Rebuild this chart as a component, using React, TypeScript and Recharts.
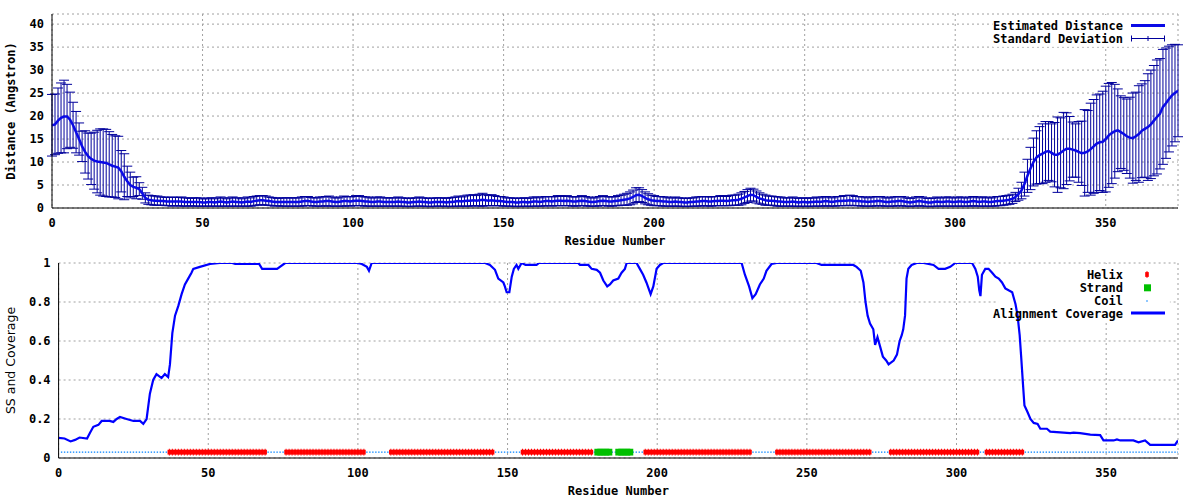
import { ComposedChart, Line, Scatter, XAxis, YAxis, CartesianGrid, ErrorBar, ReferenceArea } from "recharts";

// estimated distance per residue (0..374)
const distance = [
  18.0, 18.2, 19.0, 19.6, 19.9, 19.9, 19.2, 18.0, 16.5, 15.0,
  13.4, 12.2, 11.3, 10.7, 10.3, 10.1, 10.0, 9.9, 9.8, 9.5,
  9.2, 9.0, 8.8, 8.0, 6.8, 5.8, 5.0, 4.6, 4.4, 4.1,
  3.2, 2.2, 1.8, 1.7, 1.6, 1.6, 1.5, 1.5, 1.4, 1.4,
  1.4, 1.4, 1.4, 1.4, 1.3, 1.3, 1.3, 1.3, 1.3, 1.3,
  1.2, 1.2, 1.3, 1.3, 1.2, 1.3, 1.4, 1.3, 1.2, 1.3,
  1.4, 1.3, 1.3, 1.2, 1.3, 1.4, 1.3, 1.5, 1.6, 1.7,
  1.7, 1.6, 1.5, 1.4, 1.3, 1.3, 1.3, 1.3, 1.3, 1.3,
  1.3, 1.3, 1.3, 1.4, 1.5, 1.5, 1.4, 1.3, 1.3, 1.4,
  1.4, 1.5, 1.5, 1.4, 1.3, 1.3, 1.4, 1.5, 1.5, 1.4,
  1.5, 1.6, 1.6, 1.5, 1.4, 1.4, 1.3, 1.3, 1.4, 1.4,
  1.3, 1.3, 1.3, 1.3, 1.3, 1.4, 1.3, 1.3, 1.2, 1.2,
  1.3, 1.3, 1.4, 1.3, 1.3, 1.2, 1.2, 1.3, 1.3, 1.3,
  1.3, 1.2, 1.3, 1.3, 1.4, 1.5, 1.4, 1.5, 1.6, 1.6,
  1.7, 1.6, 1.7, 1.8, 1.7, 1.6, 1.7, 1.6, 1.5, 1.5,
  1.4, 1.3, 1.3, 1.3, 1.2, 1.2, 1.3, 1.3, 1.2, 1.3,
  1.4, 1.4, 1.3, 1.4, 1.5, 1.5, 1.4, 1.5, 1.6, 1.6,
  1.5, 1.6, 1.5, 1.4, 1.4, 1.5, 1.6, 1.5, 1.4, 1.3,
  1.3, 1.4, 1.5, 1.6, 1.5, 1.4, 1.4, 1.5, 1.6, 1.7,
  1.8, 1.9, 2.1, 2.4, 2.8, 2.9, 2.6, 2.2, 1.9, 1.7,
  1.6, 1.5, 1.5, 1.4, 1.4, 1.3, 1.3, 1.4, 1.3, 1.3,
  1.2, 1.2, 1.3, 1.3, 1.4, 1.4, 1.5, 1.5, 1.4, 1.4,
  1.5, 1.5, 1.6, 1.6, 1.5, 1.6, 1.7, 1.7, 1.8, 2.0,
  2.3, 2.6, 2.9, 2.8, 2.4, 2.1, 1.9, 1.7, 1.6, 1.6,
  1.5, 1.4, 1.4, 1.3, 1.3, 1.3, 1.4, 1.3, 1.2, 1.3,
  1.3, 1.2, 1.3, 1.3, 1.4, 1.3, 1.4, 1.5, 1.4, 1.3,
  1.4, 1.5, 1.5, 1.6, 1.6, 1.7, 1.6, 1.5, 1.5, 1.4,
  1.4, 1.3, 1.4, 1.4, 1.5, 1.5, 1.4, 1.3, 1.3, 1.4,
  1.4, 1.5, 1.5, 1.4, 1.3, 1.2, 1.3, 1.4, 1.5, 1.4,
  1.3, 1.2, 1.2, 1.3, 1.4, 1.3, 1.3, 1.4, 1.4, 1.3,
  1.3, 1.4, 1.4, 1.3, 1.3, 1.4, 1.5, 1.4, 1.3, 1.4,
  1.4, 1.3, 1.3, 1.4, 1.5, 1.5, 1.6, 1.7, 1.8, 2.0,
  2.4, 3.0, 3.8, 5.2, 7.0, 8.6, 10.0, 11.0, 11.5, 11.8,
  12.2, 12.4, 12.0, 11.6, 11.6, 12.0, 12.5, 12.9, 12.9, 12.7,
  12.5, 12.2, 11.9, 12.0, 12.3, 12.8, 13.4, 14.0, 14.3, 14.4,
  15.0, 15.8, 16.3, 16.7, 16.9, 16.5, 16.1, 15.6, 15.3, 15.2,
  15.6, 16.1, 16.8, 17.2, 17.6, 18.2, 19.0, 19.8, 20.5, 22.0,
  22.8, 23.7, 24.5, 25.0, 25.5,
];

// standard deviation per residue
const deviation = [
  6.7, 6.6, 7.1, 7.6, 7.9, 7.0, 6.0, 5.0, 4.5, 3.5,
  3.3, 4.6, 5.0, 5.6, 6.2, 6.8, 7.2, 7.3, 7.3, 7.1,
  6.8, 6.7, 6.8, 4.5, 5.0, 3.3, 2.8, 2.1, 2.4, 1.4,
  1.3, 1.1, 1.0, 1.0, 1.0, 1.0, 0.9, 0.9, 0.9, 0.9,
  1.0, 0.9, 0.9, 1.0, 0.9, 0.9, 0.8, 0.9, 0.9, 0.9,
  0.8, 0.8, 0.9, 0.9, 0.8, 0.9, 1.0, 0.9, 0.8, 0.9,
  1.0, 0.9, 0.9, 0.8, 0.9, 1.0, 0.9, 1.0, 1.0, 1.0,
  1.0, 1.0, 0.9, 0.9, 0.9, 0.8, 0.9, 0.9, 0.9, 0.9,
  0.9, 0.9, 0.9, 1.0, 1.0, 1.0, 0.9, 0.9, 0.9, 1.0,
  1.0, 1.0, 1.1, 1.0, 0.9, 0.9, 1.0, 1.1, 1.0, 1.0,
  1.0, 1.1, 1.1, 1.0, 1.0, 1.0, 0.9, 0.9, 1.0, 1.0,
  0.9, 0.9, 0.9, 0.9, 0.9, 1.0, 0.9, 0.9, 0.9, 0.9,
  0.9, 0.9, 1.0, 0.9, 0.9, 0.9, 0.9, 0.9, 0.9, 0.9,
  0.9, 0.9, 0.9, 1.0, 1.0, 1.1, 1.0, 1.1, 1.2, 1.2,
  1.2, 1.1, 1.3, 1.4, 1.2, 1.1, 1.2, 1.1, 1.0, 1.0,
  1.0, 0.9, 0.9, 0.9, 0.9, 0.9, 0.9, 0.9, 0.9, 0.9,
  1.0, 1.0, 0.9, 1.0, 1.0, 1.0, 1.0, 1.0, 1.1, 1.1,
  1.0, 1.1, 1.0, 1.0, 1.0, 1.0, 1.1, 1.0, 1.0, 0.9,
  0.9, 1.0, 1.0, 1.1, 1.0, 1.0, 1.0, 1.0, 1.1, 1.1,
  1.2, 1.3, 1.4, 1.5, 1.6, 1.5, 1.4, 1.3, 1.2, 1.1,
  1.1, 1.0, 1.0, 1.0, 1.0, 0.9, 0.9, 1.0, 0.9, 0.9,
  0.9, 0.9, 0.9, 0.9, 1.0, 1.0, 1.0, 1.0, 1.0, 1.0,
  1.0, 1.0, 1.1, 1.1, 1.0, 1.1, 1.1, 1.1, 1.2, 1.3,
  1.3, 1.4, 1.4, 1.3, 1.3, 1.2, 1.1, 1.1, 1.0, 1.0,
  1.0, 1.0, 1.0, 0.9, 0.9, 0.9, 1.0, 0.9, 0.9, 0.9,
  0.9, 0.9, 0.9, 0.9, 1.0, 0.9, 1.0, 1.0, 1.0, 0.9,
  1.0, 1.0, 1.0, 1.1, 1.1, 1.1, 1.1, 1.0, 1.0, 1.0,
  1.0, 0.9, 1.0, 1.0, 1.0, 1.0, 1.0, 0.9, 0.9, 1.0,
  1.0, 1.0, 1.0, 1.0, 0.9, 0.9, 0.9, 1.0, 1.0, 1.0,
  0.9, 0.9, 0.9, 0.9, 1.0, 0.9, 0.9, 1.0, 1.0, 0.9,
  0.9, 1.0, 1.0, 0.9, 0.9, 1.0, 1.0, 1.0, 0.9, 1.0,
  1.0, 0.9, 0.9, 1.0, 1.0, 1.0, 1.0, 1.0, 1.0, 1.0,
  1.0, 1.3, 1.8, 2.6, 3.6, 4.6, 5.2, 5.8, 6.2, 6.5,
  6.6, 6.4, 6.3, 7.0, 8.2, 7.6, 8.3, 7.8, 7.0, 6.0,
  5.8, 6.6, 7.0, 9.4, 8.9, 10.0, 10.2, 10.6, 10.5, 11.0,
  11.5, 11.3, 11.0, 10.2, 9.0, 7.9, 7.9, 8.1, 8.8, 9.8,
  9.6, 10.5, 10.2, 10.5, 11.6, 11.8, 12.0, 12.4, 12.0, 12.5,
  12.0, 11.5, 11.0, 10.6, 10.0,
];

// alignment coverage: [residue, value]
const coverage: [number, number][] = [
  [0, 0.103], [2, 0.1], [4, 0.085], [5.5, 0.093], [7, 0.105], [9.5, 0.1], [10.5, 0.13],
  [11.6, 0.16], [13.3, 0.17], [14.4, 0.19], [17, 0.19], [18.3, 0.185], [19.4, 0.2],
  [20.5, 0.21], [22.7, 0.2], [25, 0.19], [27.2, 0.19], [28.3, 0.175], [29.4, 0.2],
  [30.5, 0.33], [31.6, 0.4], [32.7, 0.43], [34.4, 0.41], [35.5, 0.43], [36.6, 0.415],
  [37.2, 0.48], [38, 0.64], [38.9, 0.73], [40, 0.78], [41.1, 0.84], [42.2, 0.89],
  [43.3, 0.92], [44.4, 0.95], [45, 0.97], [47.2, 0.98], [50.6, 0.995], [53.9, 1],
  [58, 1], [59, 0.995], [67, 0.995], [68, 0.97], [73, 0.97], [75.7, 1], [100, 1],
  [101.3, 0.995], [103, 0.98], [103.7, 0.96], [104.6, 1], [142.5, 1], [144.1, 0.99],
  [145.8, 0.965], [146.9, 0.92], [148.6, 0.9], [149.1, 0.88], [149.7, 0.85], [150.6, 0.85],
  [151.4, 0.93], [152.1, 0.97], [153, 0.99], [153.6, 0.97], [154.7, 1], [156, 0.99],
  [159.7, 0.99], [160.5, 1], [173.6, 1], [174.2, 0.99], [177, 0.99], [178.1, 0.97],
  [179.8, 0.965], [180.9, 0.95], [182, 0.91], [183.3, 0.88], [184.2, 0.89], [185.3, 0.91],
  [187, 0.92], [188.1, 0.95], [189.2, 0.97], [189.8, 1], [193.1, 1], [194.2, 0.97],
  [195.3, 0.94], [196.4, 0.9], [197.8, 0.84], [198.7, 0.88], [199.8, 0.97], [200.9, 0.99],
  [202, 1], [228.2, 1], [229.3, 0.94], [230.7, 0.88], [231.8, 0.82], [232.9, 0.84],
  [234.3, 0.89], [235.6, 0.92], [236.5, 0.96], [238.2, 0.995], [239.9, 1], [253.2, 1],
  [254.9, 0.99], [265.5, 0.99], [266.6, 0.98], [268, 0.96], [268.9, 0.9], [269.6, 0.8],
  [270.3, 0.73], [271.1, 0.69], [272.2, 0.66], [272.8, 0.58], [273.6, 0.62], [274.5, 0.57],
  [275.4, 0.52], [276.5, 0.5], [277.3, 0.48], [279, 0.5], [280.1, 0.53], [281, 0.6],
  [281.7, 0.63], [282.2, 0.66], [282.8, 0.73], [283.3, 0.92], [283.9, 0.97], [285, 0.99],
  [286.7, 1], [289, 1], [292.3, 0.99], [294, 0.97], [296.2, 0.97], [297.9, 0.98],
  [299.6, 1], [305.2, 1], [306.3, 0.97], [307.1, 0.93], [307.6, 0.86], [308, 0.83],
  [308.5, 0.94], [309.6, 0.97], [310.7, 0.97], [311.9, 0.95], [313, 0.93], [314.1, 0.92],
  [315.2, 0.9], [316.3, 0.87], [317.4, 0.86], [318.6, 0.85], [319.7, 0.79], [320.4, 0.73],
  [321.1, 0.63], [321.6, 0.52], [322.2, 0.38], [322.7, 0.27], [323.6, 0.24], [324.7, 0.2],
  [325.8, 0.18], [327.1, 0.175], [328, 0.15], [330.2, 0.15], [331.3, 0.135], [338, 0.128],
  [339.1, 0.13], [341.3, 0.128], [344.7, 0.12], [348, 0.117], [349.1, 0.09], [352.5, 0.09],
  [353.6, 0.095], [354.7, 0.09], [359.1, 0.09], [360.8, 0.08], [363, 0.09], [364.7, 0.067],
  [373, 0.067], [374, 0.09],
];

// secondary structure segments (first, last residue)
const helixSegments = [[37, 69], [76, 102], [111, 145], [155, 178], [196, 231], [240, 271], [278, 307], [310, 322]];
const strandSegments = [[180, 184], [187, 191]];
const seqLength = 374;
const ssLevel = 0.03;

const xTicks = [0, 50, 100, 150, 200, 250, 300, 350];
const distTicks = [0, 5, 10, 15, 20, 25, 30, 35, 40];
const covTicks = [0, 0.2, 0.4, 0.6, 0.8, 1];

const distData = distance.map((d, i) => ({ res: i, dist: d, sd: deviation[i] }));
const coverageData = coverage.map(([res, cov]) => ({ res, cov }));

const inSeg = (segs: number[][], r: number) => segs.some(([a, b]) => r >= a && r <= b);
const helixPts: { res: number; y: number }[] = [];
const strandPts: { res: number; y: number }[] = [];
const coilPts: { res: number; y: number }[] = [];
for (let r = 1; r <= seqLength; r++) {
  if (inSeg(helixSegments, r)) helixPts.push({ res: r, y: ssLevel });
  else if (inSeg(strandSegments, r)) strandPts.push({ res: r, y: ssLevel });
  else coilPts.push({ res: r, y: ssLevel });
}

const mono = '"DejaVu Sans Mono", monospace';
const boldMono = { fontFamily: mono, fontSize: 12, fontWeight: 700, fill: "#000" };
const gridColor = "#a0a0a0";

const HelixMark = (p: any) => (
  <g>
    <rect x={p.cx - 1.8} y={p.cy - 2.4} width={3.6} height={4.8} fill="#ff0000" />
    <rect x={p.cx - 0.5} y={p.cy - 3.4} width={1} height={6.8} fill="#ff0000" />
  </g>
);
const StrandMark = (p: any) => (
  <rect x={p.cx - 3} y={p.cy - 3.4} width={6} height={6.8} fill="#00c000" />
);
const CoilMark = (p: any) => (
  <rect x={p.cx - 0.7} y={p.cy - 0.7} width={1.4} height={1.4} fill="#1e90ff" />
);

export default function App() {
  return (
    <div style={{ position: "absolute", left: 0, top: 0, width: 1200, height: 500, background: "#fff" }}>
      <div style={{ position: "absolute", left: 0, top: 0, width: 1200, height: 250 }}>
        <ComposedChart width={1200} height={250} data={distData} margin={{ top: 14, right: 22, bottom: 0, left: 0 }}>
          <CartesianGrid stroke={gridColor} strokeDasharray="2 3" />
          {/* key box clears the grid behind the legend */}
          <ReferenceArea x1={312.4} x2={371.2} y1={35.1} y2={42} fill="#fff" fillOpacity={1} stroke="none" zIndex={-50} />
          <XAxis
            dataKey="res" type="number" domain={[0, 374]} ticks={xTicks} allowDataOverflow interval={0}
            height={42} tickLine={false} tickSize={0} tickMargin={10} axisLine={{ stroke: "#000" }} tick={boldMono}
            label={{ value: "Residue Number", position: "insideBottom", offset: 5.5, ...boldMono }}
          />
          <XAxis
            xAxisId="top" orientation="top" dataKey="res" type="number" domain={[0, 374]} ticks={xTicks}
            allowDataOverflow interval={0} mirror height={0} tick={false} tickSize={6}
            axisLine={{ stroke: "#000" }} tickLine={{ stroke: "#000" }}
          />
          <YAxis
            type="number" domain={[0, 42.2]} ticks={distTicks} allowDataOverflow interval={0} width={52}
            tickLine={false} tickSize={0} tickMargin={8} axisLine={{ stroke: "#000" }} tick={boldMono}
            label={{ value: "Distance (Angstron)", angle: -90, position: "insideLeft", offset: 11, style: { textAnchor: "middle" }, ...boldMono }}
          />
          <YAxis
            yAxisId="right" orientation="right" type="number" domain={[0, 42.2]} ticks={distTicks}
            allowDataOverflow interval={0} mirror width={0} tick={false} tickSize={6}
            axisLine={{ stroke: "#000" }} tickLine={{ stroke: "#000" }}
          />
          <Line dataKey="dist" type="linear" stroke="#0a0ae6" strokeWidth={2.5} dot={false} isAnimationActive={false}>
            <ErrorBar dataKey="sd" width={5} stroke="#00009c" strokeWidth={1} direction="y" isAnimationActive={false} />
          </Line>
        </ComposedChart>
        <svg width={1200} height={250} style={{ position: "absolute", left: 0, top: 0, pointerEvents: "none" }}>
          <text x={1123} y={30} textAnchor="end" {...boldMono}>Estimated Distance</text>
          <line x1={1131} x2={1165} y1={25.5} y2={25.5} stroke="#0a0ae6" strokeWidth={3} />
          <text x={1123} y={43} textAnchor="end" {...boldMono}>Standard Deviation</text>
          <line x1={1131} x2={1165} y1={38.5} y2={38.5} stroke="#00009c" />
          <line x1={1131.5} x2={1131.5} y1={35.5} y2={41.5} stroke="#00009c" />
          <line x1={1164.5} x2={1164.5} y1={35.5} y2={41.5} stroke="#00009c" />
          <line x1={1148} x2={1148} y1={36} y2={41} stroke="#00009c" />
        </svg>
      </div>

      <div style={{ position: "absolute", left: 0, top: 250, width: 1200, height: 250 }}>
        <ComposedChart width={1200} height={250} margin={{ top: 13, right: 22, bottom: 0, left: 0 }}>
          <CartesianGrid stroke={gridColor} strokeDasharray="2 3" />
          <ReferenceArea x1={313.9} x2={371.3} y1={0.705} y2={0.995} fill="#fff" fillOpacity={1} stroke="none" zIndex={-50} />
          <XAxis
            dataKey="res" type="number" domain={[0, 374]} ticks={xTicks} allowDataOverflow interval={0}
            height={42} tickLine={false} tickSize={0} tickMargin={10} axisLine={{ stroke: "#000" }} tick={boldMono}
            label={{ value: "Residue Number", position: "insideBottom", offset: 5.5, ...boldMono }}
          />
          <XAxis
            xAxisId="top" orientation="top" dataKey="res" type="number" domain={[0, 374]} ticks={xTicks}
            allowDataOverflow interval={0} mirror height={0} tick={false} tickSize={6}
            axisLine={{ stroke: "#000" }} tickLine={{ stroke: "#000" }}
          />
          <YAxis
            type="number" domain={[0, 1]} ticks={covTicks} allowDataOverflow interval={0} width={58.6}
            tickLine={false} tickSize={0} tickMargin={8} axisLine={{ stroke: "#000" }} tick={boldMono}
            label={{
              value: "SS and Coverage", angle: -90, position: "insideLeft", offset: 11,
              style: { textAnchor: "middle" }, fontFamily: '"DejaVu Sans", sans-serif', fontSize: 12.5, fill: "#000",
            }}
          />
          <YAxis
            yAxisId="right" orientation="right" type="number" domain={[0, 1]} ticks={covTicks}
            allowDataOverflow interval={0} mirror width={0} tick={false} tickSize={6}
            axisLine={{ stroke: "#000" }} tickLine={{ stroke: "#000" }}
          />
          <Scatter data={coilPts} dataKey="y" shape={CoilMark} isAnimationActive={false} />
          <Scatter data={helixPts} dataKey="y" shape={HelixMark} isAnimationActive={false} />
          <Scatter data={strandPts} dataKey="y" shape={StrandMark} isAnimationActive={false} />
          <Line data={coverageData} dataKey="cov" type="linear" stroke="#0000ff" strokeWidth={2.2} dot={false} isAnimationActive={false} />
        </ComposedChart>
        <svg width={1200} height={250} style={{ position: "absolute", left: 0, top: 0, pointerEvents: "none" }}>
          <text x={1123} y={29.3} textAnchor="end" {...boldMono}>Helix</text>
          <rect x={1145.2} y={22.1} width={3.6} height={4.8} fill="#ff0000" />
          <rect x={1146.5} y={21.1} width={1} height={6.8} fill="#ff0000" />
          <text x={1123} y={42.3} textAnchor="end" {...boldMono}>Strand</text>
          <rect x={1144} y={34.3} width={7} height={7} fill="#00c000" />
          <text x={1123} y={55.4} textAnchor="end" {...boldMono}>Coil</text>
          <rect x={1146.3} y={50.3} width={1.4} height={1.4} fill="#1e90ff" />
          <text x={1123} y={68.4} textAnchor="end" {...boldMono}>Alignment Coverage</text>
          <line x1={1131} x2={1165} y1={63} y2={63} stroke="#0000ff" strokeWidth={3} />
        </svg>
      </div>
    </div>
  );
}
